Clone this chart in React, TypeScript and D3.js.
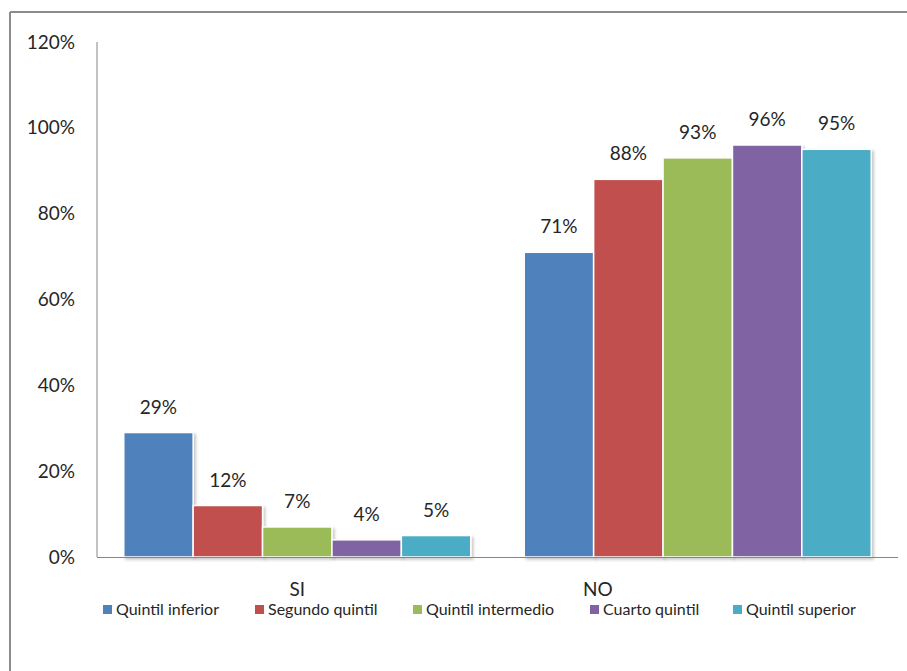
import React from "react";
import * as d3 from "d3";

const categories = ["SI", "NO"];
const seriesNames = [
  "Quintil inferior",
  "Segundo quintil",
  "Quintil intermedio",
  "Cuarto quintil",
  "Quintil superior",
];
const siValues = [0.29, 0.12, 0.07, 0.04, 0.05];
const noValues = [0.71, 0.88, 0.93, 0.96, 0.95];
const yTicks = [0, 0.2, 0.4, 0.6, 0.8, 1.0, 1.2];
const colors = ["#4F81BD", "#C0504D", "#9BBB59", "#8064A2", "#4BACC6"];

const W = 907;
const H = 671;
const FONT = "Lato, 'Open Sans', sans-serif";

export default function App() {
  const valuesByCat: Record<string, number[]> = { SI: siValues, NO: noValues };
  const left = 97;
  const right = 898;
  const top = 42;
  const bottom = 557;

  const y = d3.scaleLinear().domain([0, 1.2]).range([bottom, top]);
  const x0 = d3
    .scaleBand<string>()
    .domain(categories)
    .range([left, right])
    .paddingInner(0.1336)
    .paddingOuter(0.0668);
  const x1 = d3
    .scaleBand<string>()
    .domain(seriesNames)
    .range([0, x0.bandwidth()]);
  const pct = d3.format(".0%");

  // category label positions under the axis
  const catLabelX: Record<string, number> = {
    SI: (x0("SI") as number) + x0.bandwidth() / 2,
    NO: (x0("NO") as number) + x0.bandwidth() / 2 - 100,
  };

  const legendX = [103, 255, 413, 590, 733];

  return (
    <div style={{ position: "absolute", left: 0, top: 0 }}>
      <svg width={W} height={H} style={{ display: "block", background: "#fff" }}>
        <defs>
          <filter id="barShadow" x="-10%" y="-10%" width="130%" height="130%">
            <feDropShadow dx="2" dy="2" stdDeviation="1.5" floodColor="#000" floodOpacity="0.22" />
          </filter>
        </defs>
        {/* chart frame */}
        <line x1={10} y1={12} x2={907} y2={12} stroke="#8c8c8c" strokeWidth={2} />
        <line x1={10} y1={12} x2={10} y2={671} stroke="#8c8c8c" strokeWidth={2} />

        {/* y axis tick labels */}
        {yTicks.map((t) => (
          <text
            key={t}
            x={75}
            y={y(t)}
            dy="0.35em"
            textAnchor="end"
            fontFamily={FONT}
            fontSize={19}
            fill="#262626"
          >
            {pct(t)}
          </text>
        ))}

        {/* bars */}
        {categories.map((c) => (
          <g key={c} transform={`translate(${x0(c)},0)`}>
            {valuesByCat[c].map((v, i) => (
              <rect
                key={seriesNames[i]}
                x={x1(seriesNames[i])}
                y={y(v)}
                width={x1.bandwidth()}
                height={y(0) - y(v)}
                fill={colors[i]}
                stroke="#fff"
                strokeWidth={1.5}
                filter="url(#barShadow)"
              />
            ))}
            {valuesByCat[c].map((v, i) => (
              <text
                key={"l" + seriesNames[i]}
                x={(x1(seriesNames[i]) as number) + x1.bandwidth() / 2}
                y={y(v) - 19}
                textAnchor="middle"
                fontFamily={FONT}
                fontSize={19}
                fill="#262626"
              >
                {pct(v)}
              </text>
            ))}
          </g>
        ))}

        {/* axes */}
        <line x1={left} y1={top} x2={left} y2={bottom} stroke="#868686" strokeWidth={1} />
        <line x1={left} y1={bottom + 0.5} x2={right} y2={bottom + 0.5} stroke="#868686" strokeWidth={1} />

        {/* category labels */}
        {categories.map((c) => (
          <text
            key={c}
            x={catLabelX[c]}
            y={596}
            textAnchor="middle"
            fontFamily={FONT}
            fontSize={19}
            fill="#262626"
          >
            {c}
          </text>
        ))}

        {/* legend */}
        {seriesNames.map((s, i) => (
          <g key={s} transform={`translate(${legendX[i]},605)`}>
            <rect x={0} y={0} width={9} height={9} fill={colors[i]} />
            <text x={13} y={10} fontFamily={FONT} fontSize={16} fill="#262626">
              {s}
            </text>
          </g>
        ))}
      </svg>
    </div>
  );
}
